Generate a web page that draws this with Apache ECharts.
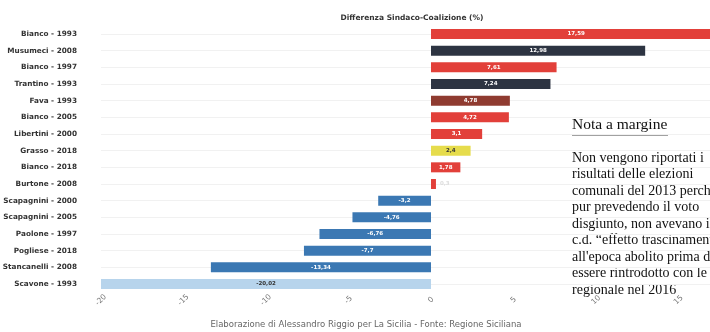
<!DOCTYPE html>
<html>
<head>
<meta charset="utf-8">
<script src="https://cdn.jsdelivr.net/npm/echarts@6/dist/echarts.min.js"></script>
<style>
  html, body { margin: 0; padding: 0; background: #fff; }
  #chart { width: 710px; height: 332px; }
</style>
</head>
<body>
<div id="chart"></div>
<script>
// rows, top to bottom
const candidates = [
  'Bianco - 1993', 'Musumeci - 2008', 'Bianco - 1997', 'Trantino - 1993',
  'Fava - 1993', 'Bianco - 2005', 'Libertini - 2000', 'Grasso - 2018',
  'Bianco - 2018', 'Burtone - 2008', 'Scapagnini - 2000', 'Scapagnini - 2005',
  'Paolone - 1997', 'Pogliese - 2018', 'Stancanelli - 2008', 'Scavone - 1993'
];
const differences = [17.59, 12.98, 7.61, 7.24, 4.78, 4.72, 3.1, 2.4, 1.78, 0.3,
  -3.2, -4.76, -6.76, -7.7, -13.34, -20.02];
const xTicks = [-20, -15, -10, -5, 0, 5, 10, 15, 20];

const barColors = ['#e2403a', '#2d3442', '#e2403a', '#2d3442', '#8f3b30', '#e2403a',
  '#e2403a', '#e6dc4c', '#e2403a', '#e2403a', '#3b78b3', '#3b78b3', '#3b78b3',
  '#3b78b3', '#3b78b3', '#b7d4ec'];
const darkLabel = { 'Grasso - 2018': true, 'Scavone - 1993': true };

const noteLines = [
  'Non vengono riportati i',
  'risultati delle elezioni',
  'comunali del 2013 perché',
  'pur prevedendo il voto',
  'disgiunto, non avevano il',
  'c.d. “effetto trascinamento”',
  "all'epoca abolito prima di",
  'essere rintrodotto con le',
  'regionale nel 2016'
];

const fmt = v => String(v).replace('.', ',');

const chart = echarts.init(document.getElementById('chart'));

const option = {
  animation: false,
  title: {
    text: 'Differenza Sindaco-Coalizione (%)',
    left: 407,
    textAlign: 'center',
    top: 9,
    textStyle: { fontFamily: 'DejaVu Sans', fontSize: 7.5, fontWeight: 'bold', color: '#333' }
  },
  // the plot runs past the right edge, the 17,59 bar is cut off like in the source
  grid: { left: 101, top: 34, width: 660, height: 250, outerBoundsMode: 'none', containLabel: false },
  xAxis: {
    type: 'value',
    min: xTicks[0],
    max: xTicks[xTicks.length - 1],
    interval: 5,
    axisLine: { show: false },
    axisTick: { show: false },
    splitLine: { show: false },
    axisLabel: {
      rotate: 45,
      align: 'center',
      verticalAlign: 'middle',
      margin: 16,
      fontFamily: 'DejaVu Sans',
      fontSize: 7.5,
      color: '#777'
    }
  },
  yAxis: {
    type: 'category',
    data: candidates,
    inverse: true,
    boundaryGap: false,
    axisLine: { show: false },
    axisTick: { show: false },
    splitLine: { show: true, lineStyle: { color: '#f1f1f1', width: 1 } },
    axisLabel: {
      margin: 24,
      fontFamily: 'DejaVu Sans',
      fontSize: 7.3,
      fontWeight: 'bold',
      color: '#333'
    }
  },
  series: [{
    type: 'bar',
    barWidth: 10,
    data: differences.map((v, i) => ({
      value: v,
      itemStyle: { color: barColors[i] },
      label: candidates[i] === 'Burtone - 2008'
        ? { position: 'right', color: '#ddd', distance: 4 }
        : { color: darkLabel[candidates[i]] ? '#333' : '#fff' }
    })),
    label: {
      show: true,
      position: 'inside',
      fontFamily: 'DejaVu Sans',
      fontSize: 5.5,
      fontWeight: 'bold',
      formatter: p => fmt(p.value)
    }
  }],
  graphic: [
    {
      type: 'text',
      x: 366,
      y: 325,
      style: {
        text: 'Elaborazione di Alessandro Riggio per La Sicilia - Fonte: Regione Siciliana',
        font: '8.5px "DejaVu Sans"',
        fill: '#666',
        align: 'center',
        verticalAlign: 'middle'
      }
    },
    {
      type: 'text',
      x: 572,
      y: 117,
      style: {
        text: 'Nota a margine',
        font: '15.5px "Liberation Serif"',
        fill: '#111'
      }
    },
    {
      type: 'rect',
      shape: { x: 572, y: 134.5, width: 96, height: 1 },
      style: { fill: '#444' }
    },
    {
      type: 'text',
      x: 572,
      y: 150,
      style: {
        text: noteLines.join('\n'),
        font: '14px "Liberation Serif"',
        lineHeight: 16.5,
        fill: '#111'
      }
    }
  ]
};

chart.setOption(option);
</script>
</body>
</html>
